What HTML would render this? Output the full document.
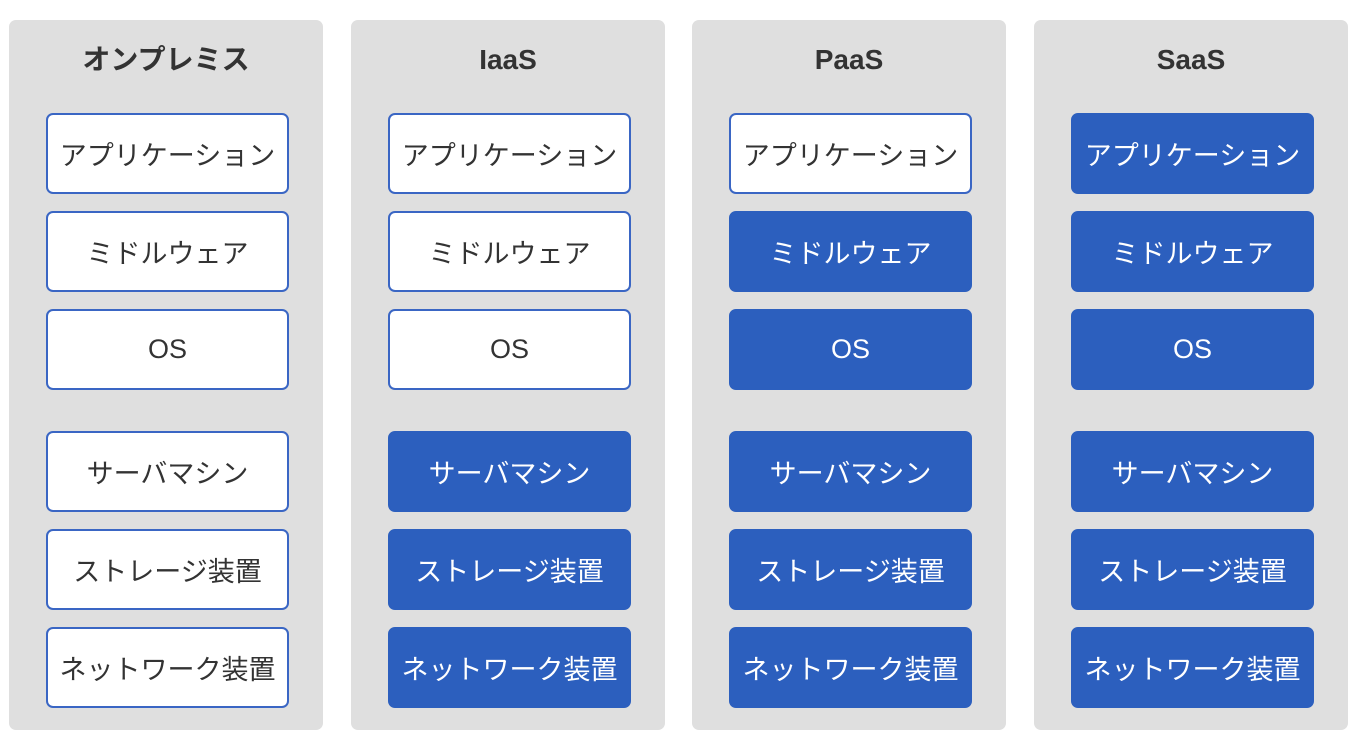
<!DOCTYPE html>
<html><head><meta charset="utf-8"><style>
body{margin:0;width:1360px;height:756px;background:#fff;position:relative;font-family:"Liberation Sans","Noto Sans CJK JP",sans-serif;overflow:hidden}
.col{position:absolute;top:20px;width:314px;height:710px;background:#dfdfdf;border-radius:7px}
.t{position:absolute;top:20px;left:0;width:100%;text-align:center;font-weight:bold;font-size:28px;color:#333;line-height:40px}
.b{position:absolute;left:37px;width:243px;height:81px;box-sizing:border-box;border-radius:7px;display:flex;align-items:center;justify-content:center;font-size:27px;color:#333;background:#fff;border:2px solid #3a66c4}
.f{background:#2c5fbe;border-color:#2c5fbe;color:#fff}
</style></head><body>
<div class="col" style="left:9px"><div class="t">オンプレミス</div>
<div class="b" style="top:93px">アプリケーション</div><div class="b" style="top:191px">ミドルウェア</div><div class="b" style="top:289px">OS</div>
<div class="b" style="top:411px">サーバマシン</div><div class="b" style="top:509px">ストレージ装置</div><div class="b" style="top:607px">ネットワーク装置</div></div>
<div class="col" style="left:351px"><div class="t">IaaS</div>
<div class="b" style="top:93px">アプリケーション</div><div class="b" style="top:191px">ミドルウェア</div><div class="b" style="top:289px">OS</div>
<div class="b f" style="top:411px">サーバマシン</div><div class="b f" style="top:509px">ストレージ装置</div><div class="b f" style="top:607px">ネットワーク装置</div></div>
<div class="col" style="left:692px"><div class="t">PaaS</div>
<div class="b" style="top:93px">アプリケーション</div><div class="b f" style="top:191px">ミドルウェア</div><div class="b f" style="top:289px">OS</div>
<div class="b f" style="top:411px">サーバマシン</div><div class="b f" style="top:509px">ストレージ装置</div><div class="b f" style="top:607px">ネットワーク装置</div></div>
<div class="col" style="left:1034px"><div class="t">SaaS</div>
<div class="b f" style="top:93px">アプリケーション</div><div class="b f" style="top:191px">ミドルウェア</div><div class="b f" style="top:289px">OS</div>
<div class="b f" style="top:411px">サーバマシン</div><div class="b f" style="top:509px">ストレージ装置</div><div class="b f" style="top:607px">ネットワーク装置</div></div>
</body></html>
